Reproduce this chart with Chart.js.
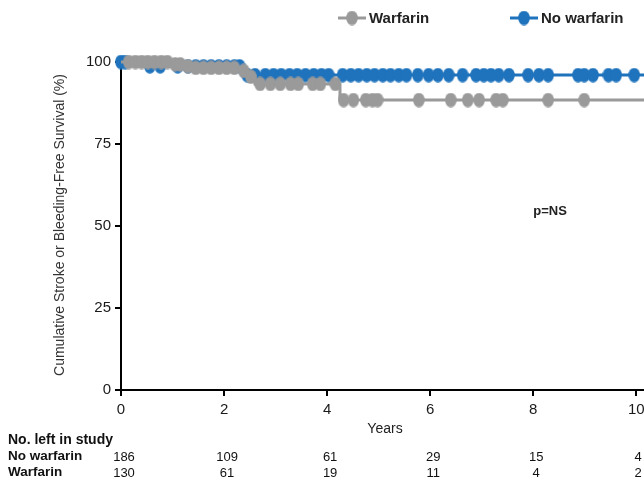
<!DOCTYPE html>
<html>
<head>
<meta charset="utf-8">
<script src="https://cdn.jsdelivr.net/npm/chart.js@4.4.1/dist/chart.umd.min.js"></script>
<style>
  html, body { margin: 0; padding: 0; background: #fff; }
  #wrap { width: 644px; height: 481px; position: relative; }
</style>
</head>
<body>
<div id="wrap"><canvas id="kmChart" width="644" height="481"></canvas></div>
<script>
// at-risk table
var tickYears = [0, 2, 4, 6, 8, 10];
var noWarfarinAtRisk = [186, 109, 61, 29, 15, 4];
var warfarinAtRisk = [130, 61, 19, 11, 4, 2];

// Kaplan-Meier steps (time in years, survival %)
var noWarfarinTimes = [0, 0.45, 2.35, 10.2];
var noWarfarinSurv = [100, 98.7, 96.0, 96.0];
var warfarinTimes = [0, 1.0, 1.2, 1.4, 2.3, 2.45, 2.6, 4.25, 10.2];
var warfarinSurv = [100, 99.3, 98.7, 98.2, 97.3, 95.5, 93.3, 88.4, 88.4];

// censor marks (years)
var noWarfarinCensored = [0, 0.08, 0.56, 0.76, 1.1, 1.3, 1.45, 1.6, 1.75, 1.9, 2.05, 2.2, 2.3,
  2.45, 2.6, 2.80, 2.96, 3.11, 3.27, 3.42, 3.58, 3.74, 3.89, 4.03, 4.30, 4.46, 4.61, 4.77, 4.92,
  5.08, 5.23, 5.39, 5.54, 5.76, 5.97, 6.15, 6.36, 6.63, 6.89, 7.04, 7.18, 7.33, 7.53, 7.90,
  8.11, 8.29, 8.87, 8.99, 9.16, 9.46, 9.61, 9.96];
var warfarinCensored = [0.15, 0.28, 0.4, 0.52, 0.65, 0.78, 0.9, 1.05, 1.15, 1.3, 1.45, 1.6, 1.75,
  1.9, 2.05, 2.2, 2.38, 2.52, 2.70, 2.90, 3.09, 3.29, 3.44, 3.72, 3.87, 4.16, 4.32, 4.51, 4.75,
  4.88, 4.98, 5.78, 6.40, 6.73, 6.95, 7.28, 7.41, 8.29, 8.99];

var blue = '#1f73bd';
var gray = '#9a9a9a';

function survAt(times, surv, t) {
  var v = surv[0];
  for (var i = 0; i < times.length; i++) {
    if (times[i] <= t) v = surv[i];
  }
  return v;
}
function stepPoints(times, surv) {
  return times.map(function (t, i) { return { x: t, y: surv[i] }; });
}
function censorPoints(list, times, surv) {
  return list.map(function (t) { return { x: t, y: survAt(times, surv, t) }; });
}
function marker(color) {
  var c = document.createElement('canvas');
  c.width = 12; c.height = 15;
  var g = c.getContext('2d');
  g.fillStyle = color;
  g.beginPath();
  g.ellipse(6, 7.5, 5.8, 7.3, 0, 0, Math.PI * 2);
  g.fill();
  return c;
}
var blueMark = marker(blue);
var grayMark = marker(gray);

var textPlugin = {
  id: 'kmText',
  afterDraw: function (chart) {
    var ctx = chart.ctx;
    var xs = chart.scales.x;
    ctx.save();
    ctx.fillStyle = '#222';
    ctx.textBaseline = 'middle';

    // y title
    ctx.save();
    ctx.translate(60, 225);
    ctx.rotate(-Math.PI / 2);
    ctx.textAlign = 'center';
    ctx.font = '14px "Liberation Sans", Arial, sans-serif';
    ctx.fillStyle = '#333';
    ctx.fillText('Cumulative Stroke or Bleeding-Free Survival (%)', 0, 0);
    ctx.restore();

    ctx.textAlign = 'center';
    ctx.font = '14px "Liberation Sans", Arial, sans-serif';
    ctx.fillText('Years', 385, 429);

    ctx.font = 'bold 13px "Liberation Sans", Arial, sans-serif';
    ctx.fillText('p=NS', 550, 211);

    // legend
    function legendItem(x, color, img, label) {
      ctx.strokeStyle = color;
      ctx.lineWidth = 3;
      ctx.beginPath();
      ctx.moveTo(x, 18);
      ctx.lineTo(x + 28, 18);
      ctx.stroke();
      ctx.drawImage(img, x + 14 - 6, 18 - 7.5);
      ctx.textAlign = 'left';
      ctx.fillStyle = '#222';
      ctx.font = 'bold 15px "Liberation Sans", Arial, sans-serif';
      ctx.fillText(label, x + 31, 19);
    }
    legendItem(338, gray, grayMark, 'Warfarin');
    legendItem(510, blue, blueMark, 'No warfarin');

    // at-risk table
    ctx.textAlign = 'left';
    ctx.fillStyle = '#111';
    ctx.font = 'bold 14px "Liberation Sans", Arial, sans-serif';
    ctx.fillText('No. left in study', 8, 440);
    ctx.font = 'bold 13.5px "Liberation Sans", Arial, sans-serif';
    ctx.fillText('No warfarin', 8, 456);
    ctx.fillText('Warfarin', 8, 472);
    ctx.textAlign = 'center';
    ctx.font = '13px "Liberation Sans Narrow", "Arial Narrow", "Liberation Sans", Arial, sans-serif';
    tickYears.forEach(function (yr, i) {
      var px = Math.min(xs.getPixelForValue(yr) + 3, 638);
      ctx.fillText(String(noWarfarinAtRisk[i]), px, 457);
      ctx.fillText(String(warfarinAtRisk[i]), px, 473);
    });
    ctx.restore();
  }
};

var ctx = document.getElementById('kmChart');
var kmChart = new Chart(ctx, {
  type: 'line',
  data: {
    datasets: [
      {
        label: 'Warfarin censored',
        data: censorPoints(warfarinCensored, warfarinTimes, warfarinSurv),
        showLine: false,
        pointStyle: grayMark,
        pointRadius: 6,
        clip: false
      },
      {
        label: 'Warfarin',
        data: stepPoints(warfarinTimes, warfarinSurv),
        stepped: true,
        borderColor: gray,
        borderWidth: 3,
        pointRadius: 0,
        fill: false,
        clip: false
      },
      {
        label: 'No warfarin censored',
        data: censorPoints(noWarfarinCensored, noWarfarinTimes, noWarfarinSurv),
        showLine: false,
        pointStyle: blueMark,
        pointRadius: 6,
        clip: false
      },
      {
        label: 'No warfarin',
        data: stepPoints(noWarfarinTimes, noWarfarinSurv),
        stepped: true,
        borderColor: blue,
        borderWidth: 3,
        pointRadius: 0,
        fill: false,
        clip: false
      }
    ]
  },
  options: {
    responsive: false,
    animation: false,
    events: [],
    layout: { autoPadding: false, padding: { top: 62, left: 0, right: 0, bottom: 0 } },
    plugins: {
      legend: { display: false },
      tooltip: { enabled: false }
    },
    scales: {
      x: {
        type: 'linear',
        min: 0,
        max: 10.15,
        afterFit: function (scale) {
          scale.height = 91;
          scale.paddingLeft = 0;
          scale.paddingRight = 0;
        },
        afterBuildTicks: function (scale) {
          scale.ticks = tickYears.map(function (v) { return { value: v }; });
        },
        ticks: {
          color: '#1a1a1a',
          padding: 5,
          font: { family: '"Liberation Sans", Arial, sans-serif', size: 15 }
        },
        grid: { drawOnChartArea: false, drawTicks: true, tickLength: 6, color: '#000', lineWidth: 2 },
        border: { color: '#000', width: 2 }
      },
      y: {
        min: 0,
        max: 100,
        afterFit: function (scale) { scale.width = 121; },
        ticks: {
          stepSize: 25,
          color: '#1a1a1a',
          padding: 4,
          font: { family: '"Liberation Sans", Arial, sans-serif', size: 15 }
        },
        grid: { drawOnChartArea: false, drawTicks: true, tickLength: 6, color: '#000', lineWidth: 2 },
        border: { color: '#000', width: 2 }
      }
    }
  },
  plugins: [textPlugin]
});
</script>
</body>
</html>
